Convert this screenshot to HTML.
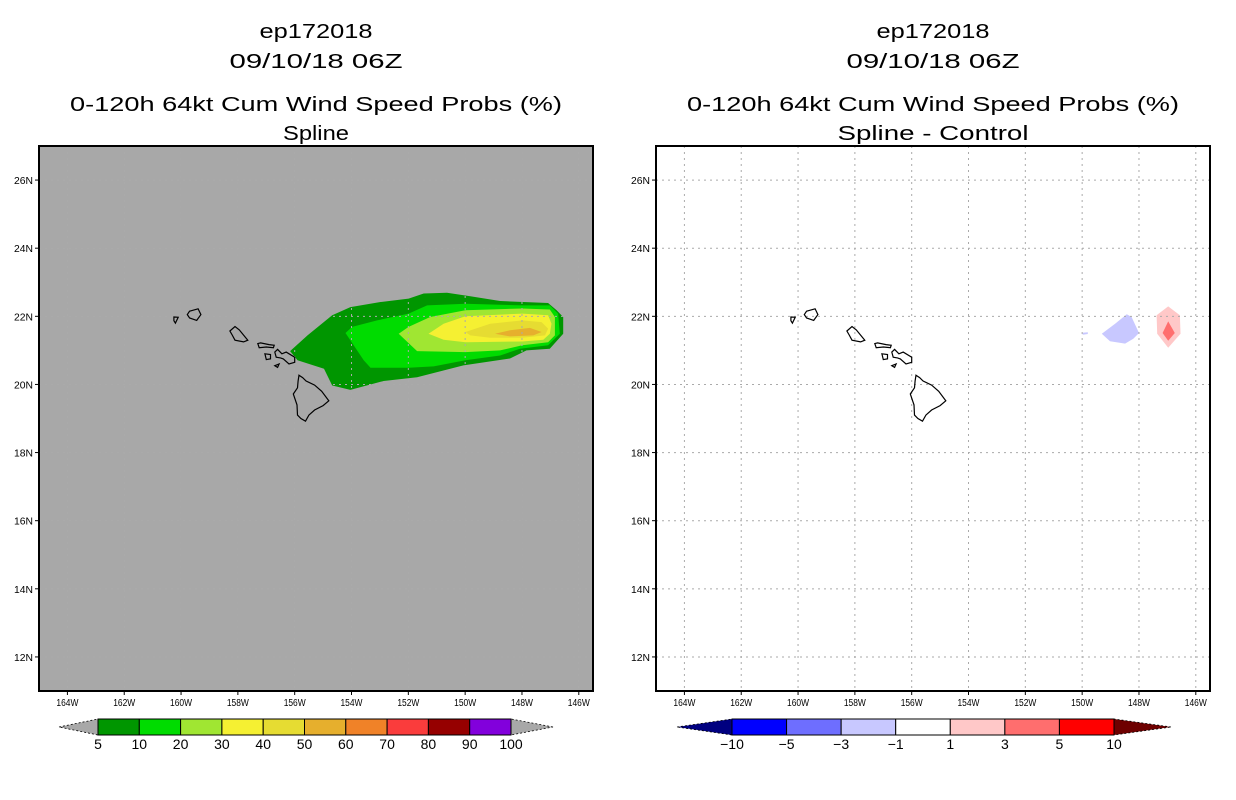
<!DOCTYPE html>
<html><head><meta charset="utf-8"><style>
html,body{margin:0;padding:0;background:#fff;}
svg{display:block;font-family:"Liberation Sans",sans-serif;}
</style></head><body>
<svg id="root" width="1236" height="800" viewBox="0 0 1236 800">
<g id="left"></g>
<g id="right"></g>
</svg>
<script>
const NS='http://www.w3.org/2000/svg';
// ---- data ----
const lonTicks=[-164,-162,-160,-158,-156,-154,-152,-150,-148,-146];
const latTicks=[12,14,16,18,20,22,24,26];
const probLevels=['5','10','20','30','40','50','60','70','80','90','100'];
const probColors=['#009600','#00dc00','#a0e632','#f5f032','#e6dc32','#e6af2d','#f08228','#fa3c3c','#960000','#8200dc'];
const diffLevels=['-10','-5','-3','-1','1','3','5','10'];
const diffColors=['#000080','#0000ff','#6e6eff','#c8c8ff','#ffffff','#ffc8c8','#ff6e6e','#ff0000','#6e0000'];
const prob5=[[-156.16,20.98],[-155.55,21.44],[-154.68,22.03],[-154.04,22.27],[-152.98,22.42],[-151.99,22.52],[-151.46,22.67],[-150.64,22.69],[-149.82,22.59],[-148.77,22.45],[-147.08,22.39],[-146.78,22.18],[-146.55,21.98],[-146.55,21.49],[-147.02,21.05],[-147.84,21.0],[-148.42,20.76],[-150.06,20.56],[-151.69,20.21],[-152.87,20.1],[-154.04,19.84],[-154.68,19.97],[-154.97,20.46],[-155.9,20.71]];
const prob10=[[-154.21,21.51],[-153.98,21.69],[-153.1,21.88],[-151.99,22.08],[-151.34,22.32],[-149.99,22.37],[-147.99,22.32],[-147.02,22.32],[-146.73,22.08],[-146.67,21.49],[-147.08,21.15],[-148.07,21.05],[-148.77,20.85],[-149.99,20.71],[-151.11,20.53],[-151.99,20.49],[-153.33,20.49],[-153.57,20.71]];
const prob20=[[-152.34,21.49],[-151.99,21.69],[-151.23,21.98],[-149.99,22.18],[-147.99,22.23],[-147.02,22.2],[-146.84,21.98],[-146.84,21.44],[-147.08,21.24],[-147.99,21.15],[-148.77,21.0],[-149.99,20.95],[-151.69,20.98]];
const prob30=[[-151.29,21.49],[-150.76,21.78],[-149.99,22.0],[-147.99,22.08],[-147.08,22.03],[-146.96,21.78],[-147.02,21.49],[-147.25,21.31],[-147.99,21.26],[-149.99,21.24],[-150.76,21.31]];
const prob40=[[-149.99,21.54],[-149.12,21.78],[-147.99,21.88],[-147.31,21.83],[-147.08,21.64],[-147.19,21.44],[-147.99,21.37],[-149.12,21.37],[-149.82,21.44]];
const prob50=[[-148.95,21.49],[-148.42,21.59],[-147.72,21.66],[-147.31,21.54],[-147.6,21.44],[-148.42,21.41]];
const diffNeg1=[[-149.31,21.49],[-148.84,21.78],[-148.43,22.06],[-148.26,21.98],[-148.0,21.51],[-148.2,21.34],[-148.49,21.2],[-149.02,21.27]];
const diffNeg1b=[[-149.98,21.52],[-149.8,21.53],[-149.8,21.48],[-149.98,21.46]];
const diffPos1=[[-147.38,22.03],[-146.97,22.29],[-146.56,22.03],[-146.54,21.49],[-146.97,21.08],[-147.36,21.49]];
const diffPos3=[[-146.97,21.85],[-146.74,21.51],[-146.97,21.28],[-147.17,21.51]];
const islands={
 'big-island':[[-155.85,20.27],[-155.72,20.2],[-155.6,20.1],[-155.3,19.98],[-155.05,19.8],[-154.8,19.52],[-155.0,19.38],[-155.3,19.25],[-155.5,19.1],[-155.62,18.92],[-155.78,19.0],[-155.9,19.1],[-155.92,19.4],[-156.05,19.72],[-155.9,19.9],[-155.88,20.1]],
 'maui':[[-156.7,20.95],[-156.6,21.03],[-156.45,20.9],[-156.3,20.95],[-156.0,20.8],[-156.0,20.65],[-156.2,20.6],[-156.4,20.75],[-156.5,20.78],[-156.65,20.8]],
 'molokai':[[-157.3,21.2],[-157.2,21.22],[-156.9,21.17],[-156.72,21.15],[-156.75,21.08],[-157.0,21.1],[-157.25,21.08]],
 'lanai':[[-157.05,20.9],[-156.85,20.88],[-156.85,20.75],[-157.0,20.73]],
 'kahoolawe':[[-156.7,20.55],[-156.55,20.6],[-156.6,20.5]],
 'oahu':[[-158.28,21.57],[-158.1,21.7],[-157.95,21.6],[-157.65,21.3],[-157.8,21.25],[-158.1,21.3],[-158.2,21.45]],
 'kauai':[[-159.7,22.15],[-159.4,22.22],[-159.3,22.05],[-159.45,21.88],[-159.7,21.95],[-159.78,22.05]],
 'niihau':[[-160.25,21.98],[-160.1,21.97],[-160.2,21.8],[-160.25,21.87]]
};
// ---- layout ----
const LON0=-165,LON1=-145.5,LAT0=11,LAT1=27,PY0=146,PY1=691,PW=554;
function mk(tag,attrs,parent){const e=document.createElementNS(NS,tag);for(const k in attrs)e.setAttribute(k,attrs[k]);parent.appendChild(e);return e;}
function panel(g,x0,bg,title2,layers,cb){
  const sx=lon=>x0+(lon-LON0)/(LON1-LON0)*PW;
  const sy=lat=>PY1-(lat-LAT0)/(LAT1-LAT0)*(PY1-PY0);
  const cx=x0+PW/2;
  const t=[['ep172018',38,113],['09/10/18 06Z',68,173],['0-120h 64kt Cum Wind Speed Probs (%)',111,492],[title2,140,title2.length>8?191:66]];
  t.forEach((s,i)=>{const e=mk('text',{x:cx,y:s[1],'text-anchor':'middle','font-size':20,textLength:s[2],lengthAdjust:'spacingAndGlyphs',fill:'#000'},g);e.textContent=s[0];
    
    });
  const bgr=mk('rect',{x:x0,y:PY0,width:PW,height:PY1-PY0,fill:bg},g);
  
  layers.forEach(L=>{const p=mk('polygon',{points:L.pts.map(q=>sx(q[0]).toFixed(1)+','+sy(q[1]).toFixed(1)).join(' '),fill:L.c},g);
    });
  lonTicks.forEach(v=>{const x=sx(v);const l=mk('line',{x1:x,y1:PY0,x2:x,y2:PY1,stroke:'#aaa','stroke-dasharray':'2,4','stroke-width':1},g);
    
    mk('line',{x1:x,y1:PY1,x2:x,y2:PY1+4,stroke:'#000'},g);
    const tx=mk('text',{x:x,y:PY1+15,'text-anchor':'middle','font-size':10,textLength:22,lengthAdjust:'spacingAndGlyphs'},g);tx.textContent=(-v)+'W';
    });
  latTicks.forEach(v=>{const y=sy(v);const l=mk('line',{x1:x0,y1:y,x2:x0+PW,y2:y,stroke:'#aaa','stroke-dasharray':'2,4','stroke-width':1},g);
    
    mk('line',{x1:x0-4,y1:y,x2:x0,y2:y,stroke:'#000'},g);
    const tx=mk('text',{x:x0-6,y:y+4,'text-anchor':'end','font-size':10,textLength:19,lengthAdjust:'spacingAndGlyphs'},g);tx.textContent=v+'N';
    });
  for(const k in islands){const p=mk('polygon',{points:islands[k].map(q=>sx(q[0]).toFixed(1)+','+sy(q[1]).toFixed(1)).join(' '),fill:'none',stroke:'#000','stroke-width':1.2},g);
    }
  const fr=mk('rect',{x:x0,y:PY0,width:PW,height:PY1-PY0,fill:'none',stroke:'#000','stroke-width':2},g);
  
  // colorbar
  const cg=mk('g',{},g);
  const y0=719,y1=735,ym=(y0+y1)/2;
  const bw=(cb.x1-cb.x0)/cb.colors.length;
  const lt=mk('polygon',{points:`${cb.tl},${ym} ${cb.x0},${y0} ${cb.x0},${y1}`,fill:cb.lc,stroke:'#000','stroke-width':0.8,'stroke-dasharray':'2,2'},cg);
  
  const rt=mk('polygon',{points:`${cb.tr},${ym} ${cb.x1},${y0} ${cb.x1},${y1}`,fill:cb.rc,stroke:'#000','stroke-width':0.8,'stroke-dasharray':'2,2'},cg);
  
  cb.colors.forEach((c,i)=>{const r=mk('rect',{x:cb.x0+i*bw,y:y0,width:bw,height:y1-y0,fill:c,stroke:'#000','stroke-width':1},cg);
    });
  cb.labels.forEach((s,i)=>{const x=cb.x0+(cb.lo+i)*bw;const tx=mk('text',{x:x,y:749,'text-anchor':'middle','font-size':14},cg);tx.textContent=s.replace('-','\u2212');
    });
}
panel(document.getElementById('left'),39,'#a8a8a8','Spline',[
  {pts:prob5,c:probColors[0],n:'prob-5-10'},{pts:prob10,c:probColors[1],n:'prob-10-20'},{pts:prob20,c:probColors[2],n:'prob-20-30'},
  {pts:prob30,c:probColors[3],n:'prob-30-40'},{pts:prob40,c:probColors[4],n:'prob-40-50'},{pts:prob50,c:probColors[5],n:'prob-50-60'}],
  {x0:98,x1:511,tl:59,tr:553,colors:probColors,lc:'#a8a8a8',rc:'#a8a8a8',labels:probLevels,lo:0});
panel(document.getElementById('right'),656,'#ffffff','Spline - Control',[
  {pts:diffNeg1,c:diffColors[3],n:'diff-neg-1-3'},{pts:diffNeg1b,c:diffColors[3],n:'diff-neg-1-3-small'},
  {pts:diffPos1,c:diffColors[5],n:'diff-pos-1-3'},{pts:diffPos3,c:diffColors[6],n:'diff-pos-3-5'}],
  {x0:732,x1:1114,tl:677,tr:1171,colors:diffColors.slice(1,8),lc:diffColors[0],rc:diffColors[8],labels:diffLevels,lo:0});
</script>
</body></html>
